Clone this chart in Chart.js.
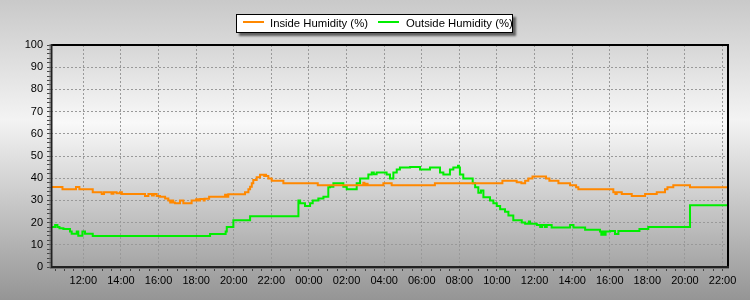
<!DOCTYPE html>
<html>
<head>
<meta charset="utf-8">
<script src="https://cdn.jsdelivr.net/npm/chart.js@4.4.1/dist/chart.umd.min.js"></script>
<style>
  body { margin:0; background:#fff; }
  #wrap { position:relative; width:750px; height:300px; }
  #legend { position:absolute; left:236px; top:14px; width:275px; height:17px; background:#fff;
            border:1px solid #000; box-shadow:3px 3px 2px rgba(0,0,0,0.55);
            font:11.3px "Liberation Sans", Arial, sans-serif; color:#000; }
  .item { position:absolute; top:2px; line-height:13px; white-space:nowrap; }
  .swatch { position:absolute; top:6px; width:21px; height:2px; }
</style>
</head>
<body>
<div id="wrap">
  <canvas id="c" width="750" height="300"></canvas>
  <div id="legend">
    <div class="swatch" style="left:6px;background:#ff8800"></div>
    <div class="item" style="left:33px">Inside Humidity (%)</div>
    <div class="swatch" style="left:141px;background:#00ee00"></div>
    <div class="item" style="left:169px">Outside Humidity (%)</div>
  </div>
</div>
<script>
// hours counted from midnight of the first day
const xMin = 10.28, xMax = 46.29;

const insideTimes = [10.28,10.89,11.61,11.79,12.50,12.98,13.10,13.24,13.50,13.60,13.77,13.95,14.05,15.28,15.46,15.65,15.75,15.90,16.08,16.35,16.52,16.62,16.70,16.78,16.88,17.14,17.32,17.76,18.00,18.10,18.21,18.40,18.45,18.69,19.54,19.62,19.71,20.60,20.78,20.87,20.96,21.04,21.22,21.40,21.62,21.68,21.72,21.84,22.02,22.64,24.47,26.89,26.95,27.05,27.12,27.96,28.40,30.70,34.29,35.05,35.30,35.50,35.67,35.89,36.61,36.79,37.27,37.89,38.21,38.33,40.19,40.30,40.37,40.64,41.17,41.88,42.50,42.94,43.07,43.38,44.27,46.29];
const insideValues = [36,35,36,35,33.7,32.9,33.7,33.7,33,33.7,33.2,33.7,32.9,32.0,32.9,32.2,32.9,32.0,31.7,30.8,29.9,29.0,29.9,29.0,28.7,29.9,28.7,29.9,30.5,29.9,30.6,30.0,30.7,31.7,32.5,31.7,32.8,33.7,35.0,36.2,37.7,39.2,40.4,41.6,41.0,41.6,41.0,39.9,38.9,37.7,36.8,38.0,36.8,37.5,36.8,37.7,36.8,37.7,38.9,38.2,37.7,38.9,39.9,40.8,39.9,38.9,37.7,36.8,35.9,35.0,33.7,32.9,33.7,32.9,32.0,32.9,33.7,35.0,35.9,36.8,35.9,35.9];

const outsideTimes = [10.28,10.50,10.62,10.73,10.94,11.29,11.38,11.65,11.73,11.95,12.09,12.50,18.74,19.57,19.63,19.98,20.87,23.44,23.53,23.79,24.06,24.20,24.50,24.77,25.03,25.12,25.30,25.83,26.01,26.54,26.72,27.16,27.34,27.45,27.60,28.13,28.31,28.49,28.67,28.84,29.38,29.91,30.44,30.97,31.15,31.50,31.68,31.93,31.98,32.03,32.21,32.71,32.84,33.01,33.15,33.28,33.63,33.81,33.99,34.17,34.43,34.61,34.87,35.32,35.50,35.70,35.76,36.12,36.30,36.40,36.55,36.65,36.91,37.89,38.07,38.69,39.48,39.55,39.62,39.70,39.78,40.02,40.28,40.46,41.58,42.05,44.27,46.29];
const outsideValues = [18.0,18.9,18.0,17.5,17.1,16.0,15.0,16.0,14.1,16.0,15.0,14.0,14.9,16.0,18.0,21.1,22.9,29.9,28.7,27.5,28.7,29.9,30.8,31.7,35.9,36.2,37.7,36.2,35.0,37.7,39.9,41.7,42.6,41.8,42.6,41.7,39.9,42.6,43.9,44.8,45.1,43.9,44.8,42.6,41.7,43.9,44.8,45.6,44.8,41.7,39.9,37.7,35.9,33.5,34.5,31.4,29.9,28.7,27.5,26.0,24.9,23.2,21.1,20.1,19.5,20.5,19.5,18.9,18.0,18.9,18.0,18.9,17.8,18.9,17.8,16.8,16.0,14.5,16.0,14.5,16.0,16.2,14.9,16.2,17.1,18.0,27.8,27.8];

const xTickStep = 0.5, xLabelStep = 2;
const yTickStep = 2, yLabelStep = 10;

const pts = (t, v) => t.map((x, i) => ({x, y: v[i]}));
const pad = n => (n < 10 ? '0' : '') + n;

const bgPlugin = {
  id: 'bg',
  beforeDraw(chart) {
    const {ctx, chartArea: a, width, height} = chart;
    ctx.save();
    let g = ctx.createLinearGradient(0, 0, 0, height);
    g.addColorStop(0, '#c9c9c9'); g.addColorStop(0.4, '#f3f3f3'); g.addColorStop(1, '#959595');
    ctx.fillStyle = g; ctx.fillRect(0, 0, width, height);
    g = ctx.createLinearGradient(0, a.top, 0, a.bottom);
    g.addColorStop(0, '#d6d6d6'); g.addColorStop(0.35, '#f9f9f9'); g.addColorStop(1, '#a5a5a5');
    ctx.fillStyle = g; ctx.fillRect(a.left, a.top, a.right - a.left, a.bottom - a.top);
    ctx.restore();
  },
  afterDraw(chart) {
    const {ctx, chartArea: a} = chart;
    ctx.save();
    ctx.strokeStyle = '#000'; ctx.lineWidth = 2;
    ctx.beginPath(); ctx.moveTo(a.left, a.top); ctx.lineTo(a.right, a.top); ctx.lineTo(a.right, a.bottom); ctx.stroke();
    ctx.strokeStyle = '#222'; ctx.lineWidth = 2;
    ctx.beginPath(); ctx.moveTo(a.left + 0.5, a.top - 1); ctx.lineTo(a.left + 0.5, a.bottom); ctx.lineTo(a.right + 1, a.bottom); ctx.stroke();
    ctx.strokeStyle = '#777'; ctx.lineWidth = 1;
    ctx.beginPath(); ctx.moveTo(a.left - 1, a.top - 1); ctx.lineTo(a.left - 1, a.bottom + 1.5); ctx.lineTo(a.right + 1, a.bottom + 1.5); ctx.stroke();
    ctx.restore();
  }
};

function ticksEvery(step) {
  return scale => {
    const t = [];
    for (let v = Math.ceil(scale.min / step) * step; v <= scale.max + 1e-9; v += step) t.push({value: +v.toFixed(3)});
    scale.ticks = t;
  };
}

Chart.defaults.font.family = '"Liberation Sans", Arial, sans-serif';
Chart.defaults.font.size = 11;
Chart.defaults.color = '#000';

new Chart(document.getElementById('c'), {
  type: 'line',
  data: {
    datasets: [
      {label: 'Inside Humidity (%)', data: pts(insideTimes, insideValues), borderColor: '#ff8800', borderWidth: 2, stepped: true, pointRadius: 0},
      {label: 'Outside Humidity (%)', data: pts(outsideTimes, outsideValues), borderColor: '#00ee00', borderWidth: 2, stepped: true, pointRadius: 0}
    ]
  },
  options: {
    responsive: false, animation: false, devicePixelRatio: 1,
    layout: {padding: {left: 0, right: 22, top: 45, bottom: 0}},
    plugins: {legend: {display: false}, tooltip: {enabled: false}},
    scales: {
      x: {
        type: 'linear', min: xMin, max: xMax,
        afterBuildTicks: ticksEvery(xTickStep),
        afterFit: s => { s.height = 33; },
        border: {display: false, dash: [2, 2]},
        grid: {
          color: c => (Math.abs(c.tick.value % xLabelStep) < 1e-6 ? '#999999' : 'rgba(0,0,0,0)'),
          tickColor: '#444', tickLength: 4, lineWidth: 1
        },
        ticks: {
          autoSkip: false, maxRotation: 0, padding: 3,
          callback: v => (Math.abs(v % xLabelStep) < 1e-6 ? pad(v % 24) + ':00' : '')
        }
      },
      y: {
        min: 0, max: 100,
        afterBuildTicks: ticksEvery(yTickStep),
        afterFit: s => { s.width = 51; },
        border: {display: false, dash: [2, 2]},
        grid: {
          color: c => (c.tick.value % yLabelStep === 0 ? '#999999' : 'rgba(0,0,0,0)'),
          tickColor: '#444', tickLength: 4, lineWidth: 1
        },
        ticks: {
          autoSkip: false, padding: 4,
          callback: v => (v % yLabelStep === 0 ? v : '')
        }
      }
    }
  },
  plugins: [bgPlugin]
});
</script>
</body>
</html>
